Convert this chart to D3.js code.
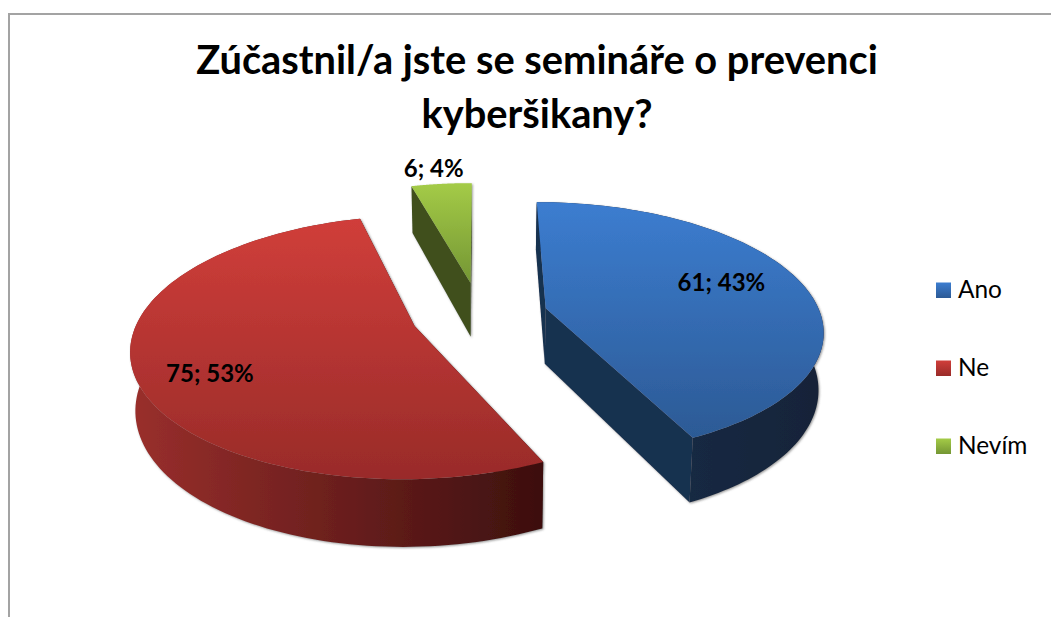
<!DOCTYPE html>
<html><head><meta charset="utf-8">
<script src="https://cdn.jsdelivr.net/npm/d3@7"></script>
<style>html,body{margin:0;padding:0;background:#fff}svg{display:block}text{font-family:Lato,"Noto Sans",sans-serif;fill:#000}</style>
</head><body><svg id="c" width="1051" height="617"></svg>
<script>
const titleLines = ["Zúčastnil/a jste se semináře o prevenci", "kyberšikany?"];
const categories = ["Ano", "Ne", "Nevím"];
const values = [61, 75, 6];
const percents = [43, 53, 4];

// layout and style
const explode = [0.247, 0.25, 0.27];
const labelRadius = [0.67, 0.74, 1.15];
const labelNudge = [[3,-8],[0,13],[-4,-3]];
const topStops = [["#3c7dd0","#2c5a95"],["#d03e3a","#992b29"],["#a4cb47","#749634"]];
const wallStops = [["#17304f","#122338"],["#9a2f2c","#3c0f0e"],["#3f4f1c","#3f4f1c"]];
const cutColor = ["#17304f","#3d0f0e","#3f4f1c"];
const cx=480, cy=315, Rx=275, Ry=125, persp=0.159, depth=56, shrink=0.985;

const svg = d3.select("#c");
const defs = svg.append("defs");
const f = defs.append("filter").attr("id","sh").attr("x","-5%").attr("y","-5%").attr("width","110%").attr("height","110%");
f.append("feDropShadow").attr("dx",1).attr("dy",1).attr("stdDeviation",1).attr("flood-color","#555").attr("flood-opacity",0.6);

// frame
svg.append("path").attr("d",d3.line()([[9,617],[9,14],[1051,14]])).attr("fill","none").attr("stroke","#a3a3a3").attr("stroke-width",2);

const arcs = d3.pie().sort(null).value(d=>d)(values);
const project = (gx,gy,h) => {           // gx right, gy toward the viewer, ground units
  const w = 1/(1-persp*gy);
  const k = h ? shrink : 1;
  return [cx+Rx*gx*w*k, cy+Ry*gy*w+h*depth*w];
};
const line = d3.line();
const pt = (i,a,r,h) => {
  const m=(arcs[i].startAngle+arcs[i].endAngle)/2;
  return project(explode[i]*Math.sin(m)+r*Math.sin(a), -explode[i]*Math.cos(m)-r*Math.cos(a), h);
};
const sweep = (i,h) => d3.range(0,121).map(t=>pt(i,arcs[i].startAngle+(arcs[i].endAngle-arcs[i].startAngle)*t/120,1,h));

arcs.forEach((d,i)=>{
  const gt=defs.append("linearGradient").attr("id","t"+i).attr("x1",0).attr("x2",0).attr("y1",0).attr("y2",1);
  gt.append("stop").attr("offset",0).attr("stop-color",topStops[i][0]);
  gt.append("stop").attr("offset",1).attr("stop-color",topStops[i][1]);
  const gw=defs.append("linearGradient").attr("id","w"+i).attr("x1",0).attr("x2",1).attr("y1",0).attr("y2",0);
  gw.append("stop").attr("offset",0).attr("stop-color",wallStops[i][0]);
  gw.append("stop").attr("offset",1).attr("stop-color",wallStops[i][1]);
});

const draw = [2,1,0];
draw.forEach(i=>{
  const d=arcs[i], g=svg.append("g").attr("filter","url(#sh)");
  const topArc=sweep(i,0), botArc=sweep(i,1);
  const a0=pt(i,0,0,0), a1=pt(i,0,0,1);
  const s0=topArc[0], s1=botArc[0], e0=topArc[120], e1=botArc[120];
  g.append("path").attr("d",line([a0,s0,s1,a1])+"Z").attr("fill",cutColor[i]);
  g.append("path").attr("d",line([a0,e0,e1,a1])+"Z").attr("fill",cutColor[i]);
  if(i!==2) g.append("path").attr("d",line(topArc.concat(botArc.slice().reverse()))+"Z").attr("fill","url(#w"+i+")");
  g.append("path").attr("d",line([a0].concat(topArc))+"Z").attr("fill","url(#t"+i+")");
});

// data labels
arcs.forEach((d,i)=>{
  const m=(d.startAngle+d.endAngle)/2, p=pt(i,m,labelRadius[i],0);
  svg.append("text").attr("x",p[0]+labelNudge[i][0]).attr("y",p[1]+labelNudge[i][1]).attr("dy","0.35em").attr("text-anchor","middle")
     .attr("font-size",24).attr("font-weight",700).text(`${values[i]}; ${percents[i]}%`);
});

// title
const titleY=d3.scalePoint().domain(titleLines).range([74,128]);
titleLines.forEach(t=>svg.append("text").attr("x",537).attr("y",titleY(t)).attr("text-anchor","middle")
  .attr("font-size",39.8).attr("font-weight",700).text(t));

// legend
const legY=d3.scalePoint().domain(categories).range([298,454]);
categories.forEach((c,i)=>{
  svg.append("rect").attr("x",936).attr("y",legY(c)-15.5).attr("width",15).attr("height",15.5).attr("fill","url(#t"+i+")");
  svg.append("text").attr("x",958).attr("y",legY(c)).attr("font-size",24.4).text(c);
});
</script></body></html>
